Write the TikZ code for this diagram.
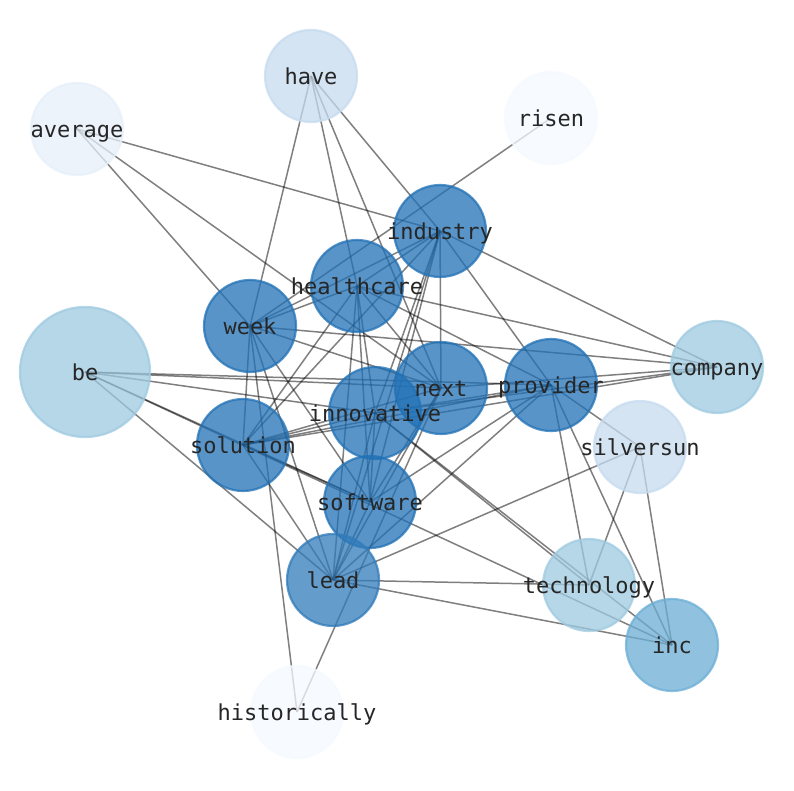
\documentclass[tikz,border=0pt]{standalone}
\usepackage{fontspec}
\setmainfont{DejaVu Sans Mono}
\pgfdeclarelayer{bg}
\pgfsetlayers{bg,main}
\definecolor{cdark}{HTML}{2171B5}
\definecolor{cmid}{HTML}{6BAED6}
\definecolor{clight}{HTML}{9ECAE1}
\definecolor{cpale}{HTML}{C6DBEF}
\definecolor{cvpale}{HTML}{E6F0FA}
\definecolor{cwhite}{HTML}{F5FAFF}
\tikzset{
  vtx/.style={circle, inner sep=0pt, minimum size=92pt, line width=2.2pt, opacity=0.75},
  bigvtx/.style={vtx, minimum size=130pt},
  lbl/.style={inner sep=0pt, text=black!85, text height=18pt, text depth=2pt, font=\fontsize{22}{22}\selectfont},
  edge/.style={draw=black, draw opacity=0.5, line width=1.5pt},
}
\begin{document}
\begin{tikzpicture}[x=1pt,y=-1pt]
\useasboundingbox (0,0) rectangle (794,790);
% nodes
\node[vtx, draw=cpale, fill=cpale] (have) at (311,76) {};
\node[vtx, draw=cvpale, fill=cvpale] (average) at (77,129) {};
\node[vtx, draw=cwhite, fill=cwhite] (risen) at (551,118) {};
\node[vtx, draw=cdark, fill=cdark] (industry) at (440,231) {};
\node[vtx, draw=cdark, fill=cdark] (healthcare) at (357,286) {};
\node[vtx, draw=cdark, fill=cdark] (week) at (250,326) {};
\node[bigvtx, draw=clight, fill=clight] (be) at (85,372) {};
\node[vtx, draw=clight, fill=clight] (company) at (717,367) {};
\node[vtx, draw=cdark, fill=cdark] (next) at (441,388) {};
\node[vtx, draw=cdark, fill=cdark] (provider) at (551,385) {};
\node[vtx, draw=cdark, fill=cdark] (innovative) at (375,413) {};
\node[vtx, draw=cdark, fill=cdark] (solution) at (243,445) {};
\node[vtx, draw=cpale, fill=cpale] (silversun) at (640,447) {};
\node[vtx, draw=cdark, fill=cdark] (software) at (370,502) {};
\node[vtx, draw=cdark!93!white, fill=cdark!93!white] (lead) at (333,580) {};
\node[vtx, draw=clight, fill=clight] (technology) at (589,585) {};
\node[vtx, draw=cmid, fill=cmid] (inc) at (672,645) {};
\node[vtx, draw=cwhite, fill=cwhite] (historically) at (297,712) {};
% labels
\foreach \n in {have,average,risen,industry,healthcare,week,be,company,next,provider,innovative,solution,silversun,software,lead,technology,inc,historically}
  \node[lbl] (\n-t) at (\n) {\n};
% edges
\begin{pgfonlayer}{bg}
\fill[white] (0,0) rectangle (794,790);
\foreach \a/\b in {have/week, have/healthcare, have/next, have/industry,
  average/industry, average/next, average/week,
  risen/week,
  historically/week, historically/next,
  be/next, be/provider, be/innovative, be/software, be/inc, be/lead,
  industry/company, industry/provider, industry/next, industry/healthcare, industry/week, industry/solution, industry/software, industry/lead, industry/innovative,
  healthcare/company, healthcare/provider, healthcare/week, healthcare/solution, healthcare/innovative, healthcare/software, healthcare/lead, healthcare/next,
  week/company, week/next, week/solution, week/lead, week/software,
  company/next, company/innovative, company/solution,
  provider/silversun, provider/technology, provider/inc, provider/lead, provider/software, provider/innovative, provider/solution,
  next/solution, next/software, next/lead,
  innovative/solution, innovative/software, innovative/lead, innovative/technology, innovative/inc,
  solution/software, solution/lead,
  software/lead,
  lead/technology, lead/inc, lead/silversun,
  silversun/technology, silversun/inc}
  \draw[edge] (\a.center) -- (\b.center);
\end{pgfonlayer}
\end{tikzpicture}
\end{document}
